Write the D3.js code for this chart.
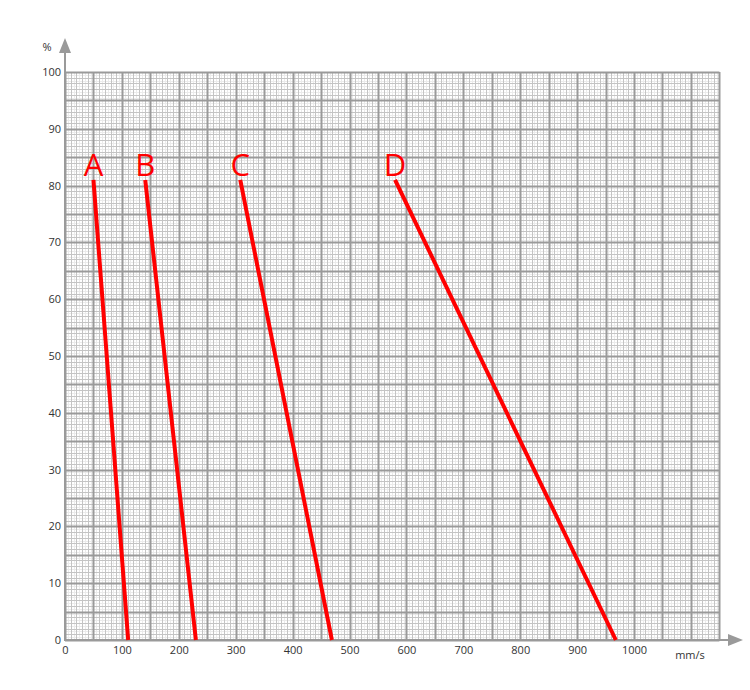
<!DOCTYPE html>
<html><head><meta charset="utf-8">
<script src="https://cdn.jsdelivr.net/npm/d3@7"></script>
<style>body{margin:0;background:#fff}svg{display:block}</style>
</head><body>
<svg id="c" width="750" height="690"></svg>
<script>
const xTicks = [0,100,200,300,400,500,600,700,800,900,1000];
const yTicks = [0,10,20,30,40,50,60,70,80,90,100];
const seriesNames = ["A","B","C","D"];
const seriesA = [[50,81],[111,0]];
const seriesB = [[141,81],[230,0]];
const seriesC = [[308,81],[469,0]];
const seriesD = [[580,81],[968,0]];
const allSeries = [seriesA, seriesB, seriesC, seriesD];
const xMax = 1150, yMax = 100;

const svg = d3.select("#c");
const x = d3.scaleLinear().domain([0,xMax]).range([65,719.4]);
const y = d3.scaleLinear().domain([0,yMax]).range([640,72]);

const g = svg.append("g");
function grid(step, color, width){
  const xs = d3.range(0, xMax+0.001, step);
  const ys = d3.range(0, yMax+0.001, step/10);
  g.selectAll(null).data(xs).enter().append("line")
    .attr("x1", d=>Math.round(x(d))+0.5).attr("x2", d=>Math.round(x(d))+0.5)
    .attr("y1", y(0)).attr("y2", y(yMax))
    .attr("stroke", color).attr("stroke-width", width);
  g.selectAll(null).data(ys).enter().append("line")
    .attr("y1", d=>Math.round(y(d))+0.5).attr("y2", d=>Math.round(y(d))+0.5)
    .attr("x1", x(0)).attr("x2", x(xMax))
    .attr("stroke", color).attr("stroke-width", width);
}
grid(5, "#ebebeb", 1);
grid(10, "#c4c4c4", 1);
grid(50, "#9a9a9a", 2);

// axes lines with arrows
const axc = "#9a9a9a";
svg.append("line").attr("x1", x(0)).attr("x2", x(0)).attr("y1", y(0)+1).attr("y2", 48)
  .attr("stroke", axc).attr("stroke-width", 2);
svg.append("path").attr("d", `M${x(0)},38 L${x(0)-6},53 L${x(0)+6},53 Z`).attr("fill", axc);
svg.append("line").attr("x1", x(0)-1).attr("x2", 735).attr("y1", y(0)).attr("y2", y(0))
  .attr("stroke", axc).attr("stroke-width", 2);
svg.append("path").attr("d", `M743,${y(0)} L728,${y(0)-6} L728,${y(0)+6} Z`).attr("fill", axc);

const font = "'Open Sans', 'DejaVu Sans', sans-serif";
const ax = svg.append("g").attr("transform", `translate(${x(0)-4},0)`)
  .call(d3.axisLeft(y).tickValues(yTicks).tickSize(0).tickPadding(0).tickFormat(d3.format("d")));
ax.select(".domain").remove();
ax.selectAll("text").attr("font-family", font).attr("font-size", 11).attr("fill", "#333");

const bx = svg.append("g").attr("transform", `translate(0,${y(0)+6})`)
  .call(d3.axisBottom(x).tickValues(xTicks).tickSize(0).tickPadding(0).tickFormat(d3.format("d")));
bx.select(".domain").remove();
bx.selectAll("text").attr("font-family", font).attr("font-size", 11).attr("fill", "#333");

svg.append("text").attr("x", 47).attr("y", 51).attr("text-anchor","middle")
  .attr("font-family", font).attr("font-size", 11).attr("fill", "#333").text("%");
svg.append("text").attr("x", 690).attr("y", 659).attr("text-anchor","middle")
  .attr("font-family", font).attr("font-size", 11).attr("fill", "#333").text("mm/s");

const line = d3.line().x(d=>x(d[0])).y(d=>y(d[1]));
allSeries.forEach((s,i)=>{
  svg.append("path").attr("d", line(s)).attr("fill","none")
    .attr("stroke", "#ff0000").attr("stroke-width", 4);
  svg.append("text").attr("x", x(s[0][0])).attr("y", y(s[0][1]) - 4)
    .attr("text-anchor","middle").attr("font-family", font)
    .attr("font-size", 31).attr("fill", "#ff0000").text(seriesNames[i]);
});
</script>
</body></html>
